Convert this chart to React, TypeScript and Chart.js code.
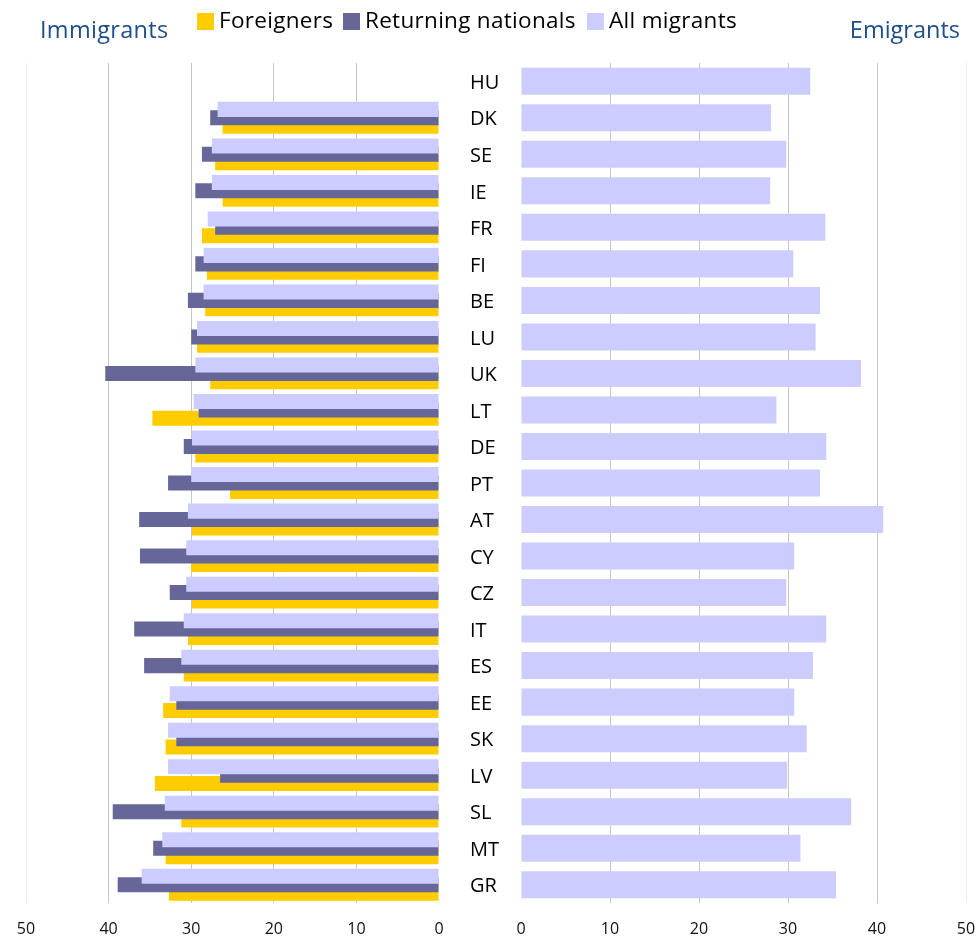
import React, { useEffect, useRef } from "react";
import { Chart, registerables } from "chart.js";

Chart.register(...registerables);

const countries = ["HU", "DK", "SE", "IE", "FR", "FI", "BE", "LU", "UK", "LT", "DE", "PT", "AT", "CY", "CZ", "IT", "ES", "EE", "SK", "LV", "SL", "MT", "GR"];

// Immigrants (left panel)
const foreigners = [null, 26.2, 27.1, 26.2, 28.7, 28.1, 28.3, 29.3, 27.7, 34.7, 29.5, 25.3, 29.9, 30.0, 29.9, 30.4, 30.9, 33.4, 33.1, 34.4, 31.2, 33.1, 32.7];
const returningNationals = [null, 27.7, 28.7, 29.5, 27.1, 29.5, 30.4, 30.0, 40.4, 29.1, 30.9, 32.8, 36.3, 36.2, 32.6, 36.9, 35.7, 31.8, 31.8, 26.5, 39.5, 34.6, 38.9];
const allImmigrants = [null, 26.8, 27.5, 27.5, 28.0, 28.5, 28.5, 29.3, 29.5, 29.7, 29.9, 30.0, 30.4, 30.6, 30.6, 30.9, 31.2, 32.6, 32.8, 32.8, 33.2, 33.5, 36.0];

// Emigrants (right panel)
const allEmigrants = [32.5, 28.1, 29.8, 28.0, 34.2, 30.6, 33.6, 33.1, 38.2, 28.7, 34.3, 33.6, 40.7, 30.7, 29.8, 34.3, 32.8, 30.7, 32.1, 29.9, 37.1, 31.4, 35.4];

const xTicks = [0, 10, 20, 30, 40, 50];

const seriesNames = ["Foreigners", "Returning nationals", "All migrants"];
const seriesColors = ["#FFCC00", "#666699", "#CCCCFF"];

const FONT = "'Open Sans', sans-serif";
const TITLE_COLOR = "#1d4e89";

const gridColor = (c: any) => {
  const v = c.tick ? c.tick.value : null;
  if (v === 0) return "rgba(0,0,0,0)";
  if (v === 50) return "#eeeeee";
  return "#c6c6c6";
};

function xScale(reverse: boolean) {
  return {
    type: "linear" as const,
    reverse,
    min: 0,
    max: 50,
    afterBuildTicks: (s: any) => {
      s.ticks = xTicks.map((v) => ({ value: v }));
    },
    ticks: {
      padding: 17,
      color: "#111111",
      font: { family: FONT, size: 16 },
    },
    grid: { drawTicks: false, color: gridColor, lineWidth: 1 },
    border: { display: false },
    afterFit: (s: any) => {
      s.height = 36;
      s.paddingLeft = 0;
      s.paddingRight = 0;
    },
  };
}

export default function App() {
  const leftRef = useRef<HTMLCanvasElement>(null);
  const rightRef = useRef<HTMLCanvasElement>(null);

  useEffect(() => {
    const left = new Chart(leftRef.current as HTMLCanvasElement, {
      type: "bar",
      data: {
        labels: countries,
        datasets: [
          { label: seriesNames[2], data: allImmigrants, backgroundColor: seriesColors[2], categoryPercentage: 0.69, barPercentage: 1.79 },
          { label: seriesNames[1], data: returningNationals, backgroundColor: seriesColors[1], categoryPercentage: 0.69, barPercentage: 1.79 },
          { label: seriesNames[0], data: foreigners, backgroundColor: seriesColors[0], categoryPercentage: 0.69, barPercentage: 1.79 },
        ] as any,
      },
      options: {
        indexAxis: "y",
        responsive: false,
        animation: false,
        layout: { padding: { left: 26, right: 11, top: 63, bottom: 0 } },
        plugins: { legend: { display: false }, tooltip: { enabled: false } },
        scales: {
          x: xScale(true) as any,
          y: { display: false },
        },
      },
    });

    const right = new Chart(rightRef.current as HTMLCanvasElement, {
      type: "bar",
      data: {
        labels: countries,
        datasets: [
          { label: seriesNames[2], data: allEmigrants, backgroundColor: seriesColors[2], categoryPercentage: 1, barPercentage: 0.74 },
        ],
      },
      options: {
        indexAxis: "y",
        responsive: false,
        animation: false,
        layout: { padding: { left: 0, right: 14, top: 63, bottom: 0 } },
        plugins: { legend: { display: false }, tooltip: { enabled: false } },
        scales: {
          x: xScale(false) as any,
          y: {
            ticks: {
              crossAlign: "far",
              autoSkip: false,
              labelOffset: 2,
              color: "#000000",
              font: { family: FONT, size: 20 },
            },
            grid: { display: false },
            border: { display: false },
            afterFit: (s: any) => {
              s.width = 51;
            },
          } as any,
        },
      },
    });

    return () => {
      left.destroy();
      right.destroy();
    };
  }, []);

  const legendX = [197, 343, 587];

  return (
    <div style={{ position: "absolute", left: 0, top: 0, width: 980, height: 939, background: "#ffffff", fontFamily: FONT }}>
      <canvas ref={leftRef} width={450} height={939} style={{ position: "absolute", left: 0, top: 0, width: 450, height: 939 }} />
      <canvas ref={rightRef} width={510} height={939} style={{ position: "absolute", left: 470, top: 0, width: 510, height: 939 }} />
      <div style={{ position: "absolute", left: 40, top: 13, fontSize: 23.5, letterSpacing: 0.3, lineHeight: "32px", color: TITLE_COLOR, whiteSpace: "nowrap" }}>Immigrants</div>
      <div style={{ position: "absolute", right: 20, top: 13, fontSize: 23.5, lineHeight: "32px", color: TITLE_COLOR, whiteSpace: "nowrap" }}>Emigrants</div>
      {seriesNames.map((name, i) => (
        <div key={name} style={{ position: "absolute", left: legendX[i], top: 5, display: "flex", alignItems: "center", whiteSpace: "nowrap" }}>
          <span style={{ display: "inline-block", width: 17, height: 17, background: seriesColors[i], marginRight: 5, marginTop: 2 }} />
          <span style={{ fontSize: 22.5, letterSpacing: 0.3, lineHeight: "30px", color: "#000000" }}>{name}</span>
        </div>
      ))}
    </div>
  );
}
